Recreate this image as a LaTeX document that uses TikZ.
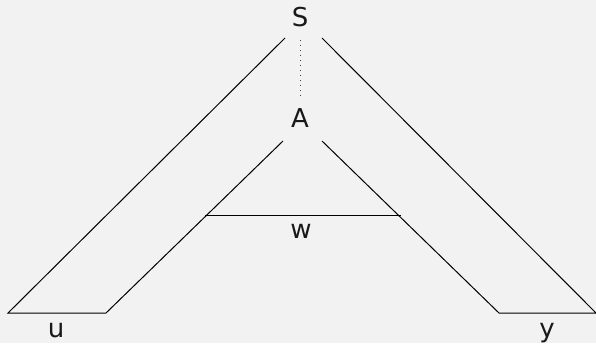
\documentclass[tikz,border=0pt]{standalone}
\usepackage{fontspec}
\setmainfont{DejaVu Sans}
\begin{document}
\begin{tikzpicture}[x=1pt,y=-1pt,
  lbl/.style={inner sep=0pt,font=\fontsize{26}{26}\selectfont,text=black!90},
  edge/.style={draw=black,line width=1pt},
  dotline/.style={draw=black!75,line width=1pt,dash pattern=on 0.9pt off 4.1pt}]
\fill[fill=black!5] (0,0) rectangle (596,343);
\useasboundingbox (0,0) rectangle (596,343);
\node[lbl] (S) at (300,17.5) {S};
\node[lbl] (A) at (300,118) {A};
\node[lbl,anchor=base] (w) at (301,238) {w};
\node[lbl,anchor=base] (u) at (56,337) {u};
\node[lbl,anchor=base] (y) at (547,337) {y};
\coordinate (sl) at (285,38);
\coordinate (sr) at (322,38);
\coordinate (al) at (283,141);
\coordinate (ar) at (322,141);
\coordinate (bl1) at (8,313);
\coordinate (bl2) at (106,313);
\coordinate (br1) at (499,313);
\coordinate (br2) at (596,313);
\coordinate (wl) at (205,215);
\coordinate (wr) at (401,215);
\coordinate (d1) at (300,40);
\coordinate (d2) at (300,97);
\draw[edge] (sl) -- (bl1) -- (bl2) -- (al);
\draw[edge] (sr) -- (br2) -- (br1) -- (ar);
\draw[edge] (wl) -- (wr);
\draw[dotline] (d1) -- (d2);
\end{tikzpicture}
\end{document}
